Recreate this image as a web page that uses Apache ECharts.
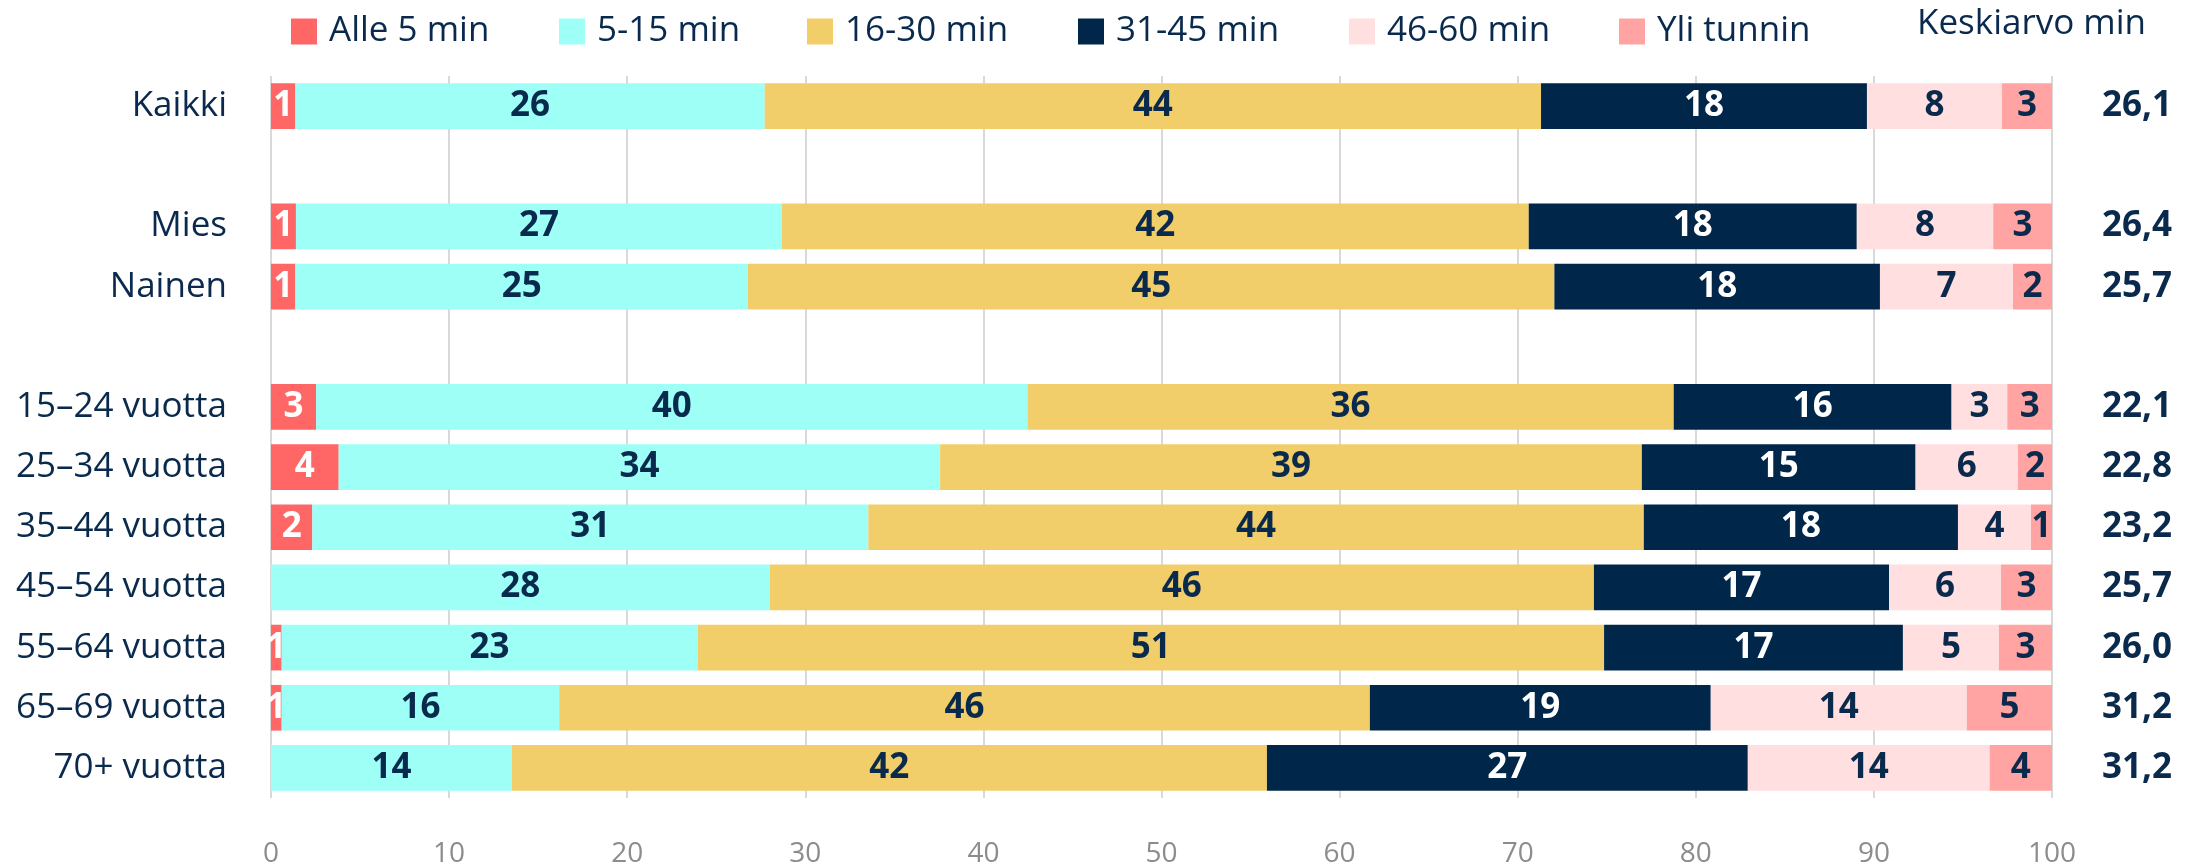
<!DOCTYPE html>
<html>
<head>
<meta charset="utf-8">
<script src="https://cdn.jsdelivr.net/npm/echarts@6/dist/echarts.min.js"></script>
<style>
html,body{margin:0;padding:0;background:#fff;}
#c{width:2200px;height:868px;}
</style>
</head>
<body>
<div id="c"></div>
<script>
// Categories (blank strings are spacer rows)
const categories = ['Kaikki', ' ', 'Mies', 'Nainen', '  ', '15–24 vuotta', '25–34 vuotta', '35–44 vuotta', '45–54 vuotta', '55–64 vuotta', '65–69 vuotta', '70+ vuotta'];
const seriesNames = ['Alle 5 min', '5-15 min', '16-30 min', '31-45 min', '46-60 min', 'Yli tunnin'];
// Shares (%), per category
const alle5   = [1.37, null, 1.40, 1.37, null, 2.53, 3.80, 2.32, null, 0.60, 0.60, null];
const min5_15 = [26.35, null, 27.29, 25.41, null, 39.94, 33.77, 31.22, 28.00, 23.35, 15.58, 13.52];
const min16_30= [43.59, null, 41.93, 45.28, null, 36.29, 39.40, 43.54, 46.28, 50.90, 45.52, 42.40];
const min31_45= [18.30, null, 18.42, 18.28, null, 15.60, 15.37, 17.64, 16.57, 16.78, 19.14, 27.00];
const min46_60= [7.58, null, 7.66, 7.47, null, 3.13, 5.75, 4.10, 6.29, 5.39, 14.38, 13.58];
const yliTunnin=[2.81, null, 3.30, 2.19, null, 2.51, 1.91, 1.18, 2.87, 2.98, 4.78, 3.55];
const keskiarvo = ['26,1', '', '26,4', '25,7', '', '22,1', '22,8', '23,2', '25,7', '26,0', '31,2', '31,2'];
const xTicks = [0, 10, 20, 30, 40, 50, 60, 70, 80, 90, 100];

const values = [alle5, min5_15, min16_30, min31_45, min46_60, yliTunnin];
const colors = ['#FF6666', '#9EFFF6', '#F2CE6A', '#00264A', '#FFDFDF', '#FFA3A3'];
const labelColors = ['#ffffff', '#0A2A4D', '#0A2A4D', '#ffffff', '#0A2A4D', '#0A2A4D'];
const navy = '#0A2A4D';
const FONT = 'Open Sans';
const legendLefts = [291, 559, 807, 1078, 1349, 1619];

const chart = echarts.init(document.getElementById('c'));
const option = {
  animation: false,
  backgroundColor: '#ffffff',
  textStyle: { fontFamily: FONT },
  title: {
    text: 'Keskiarvo min',
    left: 1912, top: 2,
    textStyle: { fontFamily: FONT, fontSize: 35, fontWeight: 'normal', color: navy }
  },
  legend: seriesNames.map((n, i) => ({
    data: [n],
    left: legendLefts[i], top: 14, padding: 0,
    icon: 'rect', itemWidth: 26, itemHeight: 26,
    selectedMode: false,
    textStyle: { fontFamily: FONT, fontSize: 35, color: navy, padding: [0, 0, 0, 7] }
  })),
  grid: { left: 271, right: 148, top: 76, bottom: 65, containLabel: false },
  xAxis: {
    type: 'value', min: 0, max: 100, interval: 10,
    axisLine: { show: false }, axisTick: { show: false },
    splitLine: { show: true, lineStyle: { color: '#D9D9D9', width: 2 } },
    axisLabel: {
      margin: 42, fontFamily: FONT, fontSize: 28, color: '#8C8C8C',
      formatter: v => xTicks.includes(v) ? String(v) : ''
    }
  },
  yAxis: [
    {
      type: 'category', data: categories, inverse: true,
      axisLine: { show: false }, axisTick: { show: false },
      axisLabel: { margin: 44, fontFamily: FONT, fontSize: 35, color: navy }
    },
    {
      type: 'category', data: keskiarvo, inverse: true, position: 'right',
      axisLine: { show: false }, axisTick: { show: false },
      axisLabel: { margin: 50, align: 'left', fontFamily: FONT, fontSize: 35, fontWeight: 'bold', color: navy }
    }
  ],
  series: seriesNames.map((n, i) => ({
    name: n, type: 'bar', stack: 'total', yAxisIndex: 0,
    barCategoryGap: '24%',
    data: values[i],
    itemStyle: { color: colors[i] },
    label: {
      show: true, position: 'inside',
      fontFamily: FONT, fontSize: 35, fontWeight: 'bold', color: labelColors[i],
      formatter: p => (p.value == null ? '' : String(Math.round(p.value)))
    }
  }))
};
chart.setOption(option);
</script>
</body>
</html>
